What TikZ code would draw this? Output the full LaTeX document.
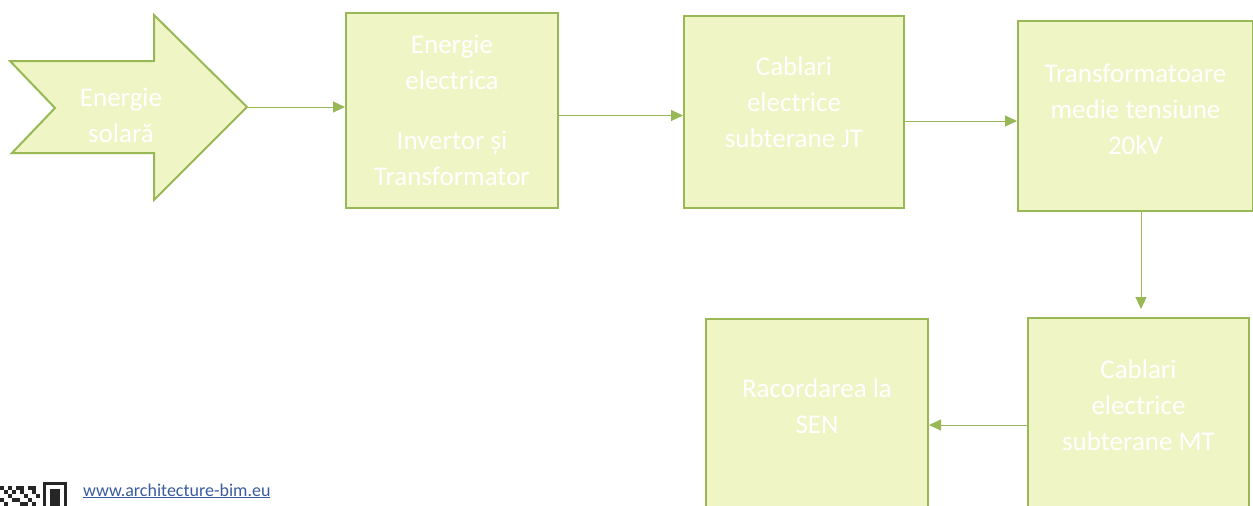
\documentclass[tikz,border=0pt]{standalone}
\usepackage{fontspec}
\setmainfont{Carlito}
\usetikzlibrary{arrows.meta,positioning}
\definecolor{boxfill}{HTML}{F0F5C6}
\definecolor{boxline}{HTML}{98B855}
\definecolor{linkblue}{HTML}{3A5BA0}
\begin{document}
\begin{tikzpicture}[x=1pt,y=-1pt,
  box/.style={draw=boxline, line width=2pt, fill=boxfill, anchor=north west, inner sep=0pt},
  lbl/.style={text=white, font=\fontsize{27}{36}\selectfont, align=center, inner sep=0pt},
  conn/.style={draw=boxline, line width=1pt, -{Triangle[length=12pt,width=11pt]}},
  qr/.style={fill=black!85}]
\useasboundingbox (0,0) rectangle (1253,506);
\clip (0,0) rectangle (1253,506);

% solar energy arrow
\draw[draw=boxline, line width=2pt, fill=boxfill, line join=miter]
  (10,61) -- (154,61) -- (154,15) -- (247,107) -- (154,200) -- (154,153) -- (12,153) -- (55,108) -- cycle;
\coordinate (sun) at (247,107);
\node[lbl] (tsun) at (121,115) {Energie\\solară};

% boxes
\node[box, minimum width=212pt, minimum height=195pt] (b1) at (345,12) {};
\node[box, minimum width=220pt, minimum height=192pt] (b2) at (683,15) {};
\node[box, minimum width=235pt, minimum height=190pt] (b3) at (1017,20) {};
\node[box, minimum width=221pt, minimum height=243pt] (b4) at (1027,317) {};
\node[box, minimum width=222pt, minimum height=242pt] (b5) at (705,318) {};

% texts
\node[lbl] (t1) at (b1.center) {Energie\\electrica\\[24pt]Invertor și\\Transformator};
\node[lbl] (t2) at ([yshift=10pt]b2.center) {Cablari\\electrice\\subterane JT};
\node[lbl] (t3) at ([yshift=6.5pt]b3.center) {Transformatoare\\medie tensiune\\20kV};
\node[lbl] (t4) at ([yshift=-88pt]b4.north) {Cablari\\electrice\\subterane MT};
\node[lbl] (t5) at ([yshift=-88pt]b5.north) {Racordarea la\\SEN};

% connectors
\draw[conn] (sun) -- (sun -| b1.west);
\draw[conn] ([yshift=-5pt]b1.east) -- ([yshift=-5pt]b1.east -| b2.west);
\draw[conn] ([yshift=-9pt]b2.east) -- ([yshift=-9pt]b2.east -| b3.west);
\draw[conn, shorten >=8pt] ([xshift=5.5pt]b3.south) -- ([xshift=5.5pt]b3.south |- b4.north);
\coordinate (m) at ([yshift=-108pt]b4.north west);
\draw[conn] (m) -- (m -| b5.east);

% QR code fragment
\fill[qr] (43,482) rectangle (67,510);
\fill[white] (46,485) rectangle (64,510);
\fill[qr] (50,489) rectangle (60,510);
\foreach \x/\y in {0/486,4/490,8/486,8/494,12/498,0/498,4/502,16/486,20/486,20/490,24/494,28/486,32/486,32/490,28/498,36/494,16/498,20/502,32/502,24/502,0/506,12/490}
  \fill[qr] (\x,\y) rectangle ++(4,4);

% link
\node[anchor=base west, text=linkblue, font=\fontsize{18}{20}\selectfont, inner sep=0pt] (link) at (83,496) {\underline{www.architecture-bim.eu}};
\end{tikzpicture}
\end{document}
